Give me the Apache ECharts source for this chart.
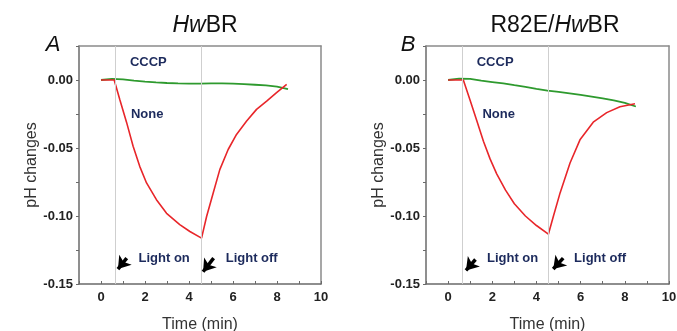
<!DOCTYPE html>
<html>
<head>
<meta charset="utf-8">
<script src="https://cdn.jsdelivr.net/npm/echarts@6/dist/echarts.min.js"></script>
<style>html,body{margin:0;padding:0;background:#fff;}#c{width:677px;height:331px;}</style>
</head>
<body>
<div id="c"></div>
<script>
// ---- data ----
const titles = ['HwBR', 'R82E/HwBR'];
const panelLetters = ['A', 'B'];
const xTickLabels = [0, 2, 4, 6, 8, 10];
const yTickLabels = ['0.00', '-0.05', '-0.10', '-0.15'];

const redA = [[0,0],[0.3,0],[0.6,0],[0.85,-0.0142],[1.16,-0.031],[1.46,-0.0487],[1.76,-0.0635],[2.07,-0.0757],[2.52,-0.088],[2.98,-0.098],[3.58,-0.1063],[4.04,-0.1114],[4.57,-0.1163],[4.80,-0.1004],[5.10,-0.0831],[5.40,-0.0659],[5.78,-0.0511],[6.16,-0.040],[6.62,-0.0302],[7.07,-0.0216],[7.53,-0.0155],[7.98,-0.0093],[8.44,-0.0032]];
const greenA = [[0,0],[0.5,0.0008],[1,0.0005],[1.5,-0.0005],[2,-0.0012],[2.5,-0.0018],[3,-0.0022],[3.5,-0.0025],[4,-0.0026],[4.5,-0.0027],[5,-0.0025],[5.5,-0.0025],[6,-0.0027],[6.5,-0.003],[7,-0.0035],[7.5,-0.004],[8,-0.0048],[8.5,-0.0068]];
const redB = [[0,0],[0.3,0],[0.69,0],[1.0,-0.015],[1.3,-0.030],[1.6,-0.045],[1.9,-0.058],[2.2,-0.069],[2.6,-0.081],[3.0,-0.091],[3.5,-0.100],[4.0,-0.107],[4.54,-0.1134],[4.77,-0.100],[5.07,-0.083],[5.52,-0.061],[5.97,-0.044],[6.57,-0.031],[7.18,-0.024],[7.78,-0.0197],[8.46,-0.0174]];
const greenB = [[0,0],[0.5,0.001],[1,0.0008],[1.5,-0.0005],[2,-0.0015],[2.5,-0.0025],[3,-0.0038],[3.5,-0.005],[4,-0.0065],[4.5,-0.0078],[5,-0.0088],[5.5,-0.0098],[6,-0.011],[6.5,-0.0122],[7,-0.0135],[7.5,-0.015],[8,-0.0168],[8.5,-0.0195]];

const lightTimesA = [0.65, 4.57];
const lightTimesB = [0.65, 4.55];
// arrows: [tail, head]
const arrowsA = [[[1.17,-0.131],[0.77,-0.139]], [[5.12,-0.131],[4.64,-0.141]]];
const arrowsB = [[[1.24,-0.132],[0.81,-0.140]], [[5.21,-0.131],[4.76,-0.139]]];
const notesA = [['CCCP',2.15,0.0128],['None',2.1,-0.0255],['Light on',2.87,-0.131],['Light off',6.85,-0.131]];
const notesB = [['CCCP',2.13,0.0128],['None',2.29,-0.0253],['Light on',2.92,-0.131],['Light off',6.88,-0.131]];

// ---- chart ----
const chart = echarts.init(document.getElementById('c'));
const FONT = '"Liberation Sans", Arial, sans-serif';
const noteColor = '#1c2a5c';

function xAxes(gi) {
  return [{
    type: 'value', gridIndex: gi, min: -1, max: 10, interval: 1,
    axisLine: {show: true, onZero: false, lineStyle: {color: '#6a6a6a', width: 1.5}},
    axisTick: {show: true, inside: true, length: 3, lineStyle: {color: '#6a6a6a'}},
    splitLine: {show: false},
    axisLabel: {
      margin: 7, fontFamily: FONT, fontWeight: 'bold', fontSize: 13, color: '#222',
      formatter: v => { const r = Math.round(v); return xTickLabels.indexOf(r) >= 0 && Math.abs(v - r) < 1e-6 ? String(r) : ''; }
    },
    name: 'Time (min)', nameLocation: 'middle', nameGap: 33,
    nameTextStyle: {fontFamily: FONT, fontSize: 16, color: '#333'}
  }, {
    type: 'value', gridIndex: gi, position: 'top', min: -1, max: 10,
    axisLine: {show: true, onZero: false, lineStyle: {color: '#8a8a8a', width: 1.5}},
    axisTick: {show: false}, axisLabel: {show: false}, splitLine: {show: false}
  }];
}
function yAxes(gi) {
  return [{
    type: 'value', gridIndex: gi, min: -0.15, max: 0.025, interval: 0.025,
    axisLine: {show: true, onZero: false, lineStyle: {color: '#6a6a6a', width: 1.5}},
    axisTick: {show: true, inside: false, length: 3, lineStyle: {color: '#6a6a6a'}},
    splitLine: {show: false},
    axisLabel: {
      margin: 6, fontFamily: FONT, fontWeight: 'bold', fontSize: 13, color: '#222',
      formatter: v => {
        const k = Math.round(v * 1000);
        const lab = k === 0 ? '0.00' : (k / 1000).toFixed(2);
        return yTickLabels.indexOf(lab) >= 0 ? lab : '';
      }
    },
    name: 'pH changes', nameLocation: 'middle', nameGap: 37,
    nameTextStyle: {fontFamily: FONT, fontSize: 16, color: '#333'}
  }, {
    type: 'value', gridIndex: gi, position: 'right', min: -0.15, max: 0.025,
    axisLine: {show: true, onZero: false, lineStyle: {color: '#8a8a8a', width: 1.5}},
    axisTick: {show: false}, axisLabel: {show: false}, splitLine: {show: false}
  }];
}

function panelSeries(xi, yi, red, green, lights, arrows, notes) {
  return [{
    type: 'line', xAxisIndex: xi, yAxisIndex: yi, data: green, showSymbol: false,
    lineStyle: {color: '#2e9a2e', width: 1.8}, z: 3,
    markLine: {
      silent: true, symbol: ['none', 'none'], label: {show: false},
      lineStyle: {color: '#cfcfcf', width: 1, type: 'solid'},
      data: lights.map(t => ({xAxis: t}))
    }
  }, {
    type: 'line', xAxisIndex: xi, yAxisIndex: yi, data: red, showSymbol: false,
    lineStyle: {color: '#e8262a', width: 1.6}, z: 4,
    markLine: {
      silent: true, symbol: ['none', 'arrow'], symbolSize: [12, 12], label: {show: false},
      lineStyle: {color: '#000', width: 3.5, type: 'solid'},
      data: arrows.map(a => [{coord: a[0]}, {coord: a[1]}])
    },
    markPoint: {
      silent: true, symbol: 'circle', symbolSize: 0,
      data: notes.map(n => ({coord: [n[1], n[2]], value: n[0]})),
      label: {show: true, position: 'inside', formatter: p => p.value,
        fontFamily: FONT, fontWeight: 'bold', fontSize: 13, color: noteColor}
    }
  }];
}

const titleRich = {
  i: {fontFamily: FONT, fontSize: 23, fontStyle: 'italic', fontWeight: 'normal', color: '#111'},
  n: {fontFamily: FONT, fontSize: 23, fontWeight: 'normal', color: '#111'}
};
function richTitle(t) {
  const parts = t.split('Hw');
  return (parts[0] ? '{n|' + parts[0] + '}' : '') + '{i|Hw}' + '{n|' + parts[1] + '}';
}

chart.setOption({
  animation: false,
  backgroundColor: '#fff',
  title: [
    {text: richTitle(titles[0]), left: 200, top: 9, textAlign: 'center', textStyle: {fontWeight: 'normal', rich: titleRich}},
    {text: richTitle(titles[1]), left: 550, top: 9, textAlign: 'center', textStyle: {fontWeight: 'normal', rich: titleRich}},
    {text: panelLetters[0], left: 48, top: 29, textAlign: 'center', textStyle: {fontFamily: FONT, fontSize: 22, fontStyle: 'italic', fontWeight: 'normal', color: '#111'}},
    {text: panelLetters[1], left: 403, top: 29, textAlign: 'center', textStyle: {fontFamily: FONT, fontSize: 22, fontStyle: 'italic', fontWeight: 'normal', color: '#111'}}
  ],
  grid: [
    {left: 79, top: 46, width: 242, height: 238, containLabel: false, outerBoundsMode: 'none'},
    {left: 426, top: 46, width: 243, height: 238, containLabel: false, outerBoundsMode: 'none'}
  ],
  xAxis: [...xAxes(0), ...xAxes(1)],
  yAxis: [...yAxes(0), ...yAxes(1)],
  series: [
    ...panelSeries(0, 0, redA, greenA, lightTimesA, arrowsA, notesA),
    ...panelSeries(2, 2, redB, greenB, lightTimesB, arrowsB, notesB)
  ]
});
</script>
</body>
</html>
